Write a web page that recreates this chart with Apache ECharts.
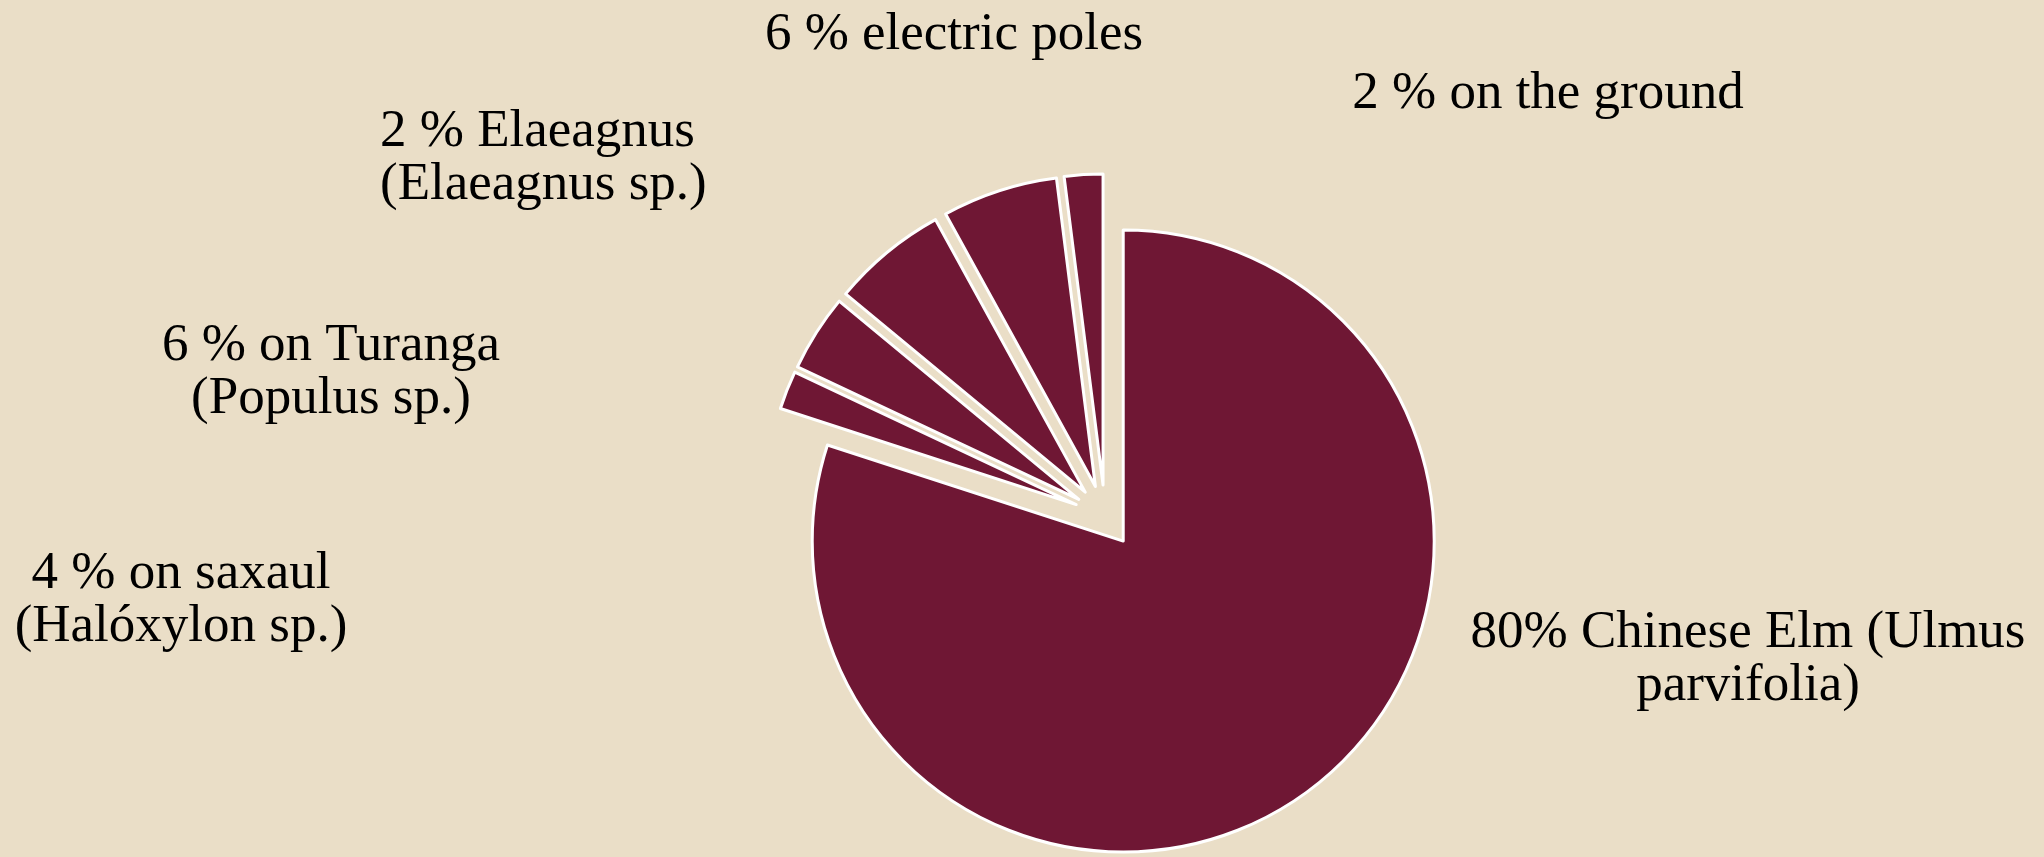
<!DOCTYPE html>
<html>
<head>
<meta charset="utf-8">
<script src="https://cdn.jsdelivr.net/npm/echarts@6/dist/echarts.min.js"></script>
<style>
  html, body { margin: 0; padding: 0; background: #EADEC7; }
  #chart { width: 2044px; height: 857px; }
</style>
</head>
<body>
<div id="chart"></div>
<script>
// ---- data ----
const categories = [
  'Chinese Elm (Ulmus parvifolia)',
  'Elaeagnus (Elaeagnus sp.)',
  'on saxaul (Halóxylon sp.)',
  'on Turanga (Populus sp.)',
  'electric poles',
  'on the ground'
];
const shares = [80, 2, 4, 6, 6, 2];
const labelTexts = [
  '80% Chinese Elm (Ulmus\nparvifolia)',
  '2 % Elaeagnus\n(Elaeagnus sp.)',
  '4 % on saxaul\n(Halóxylon sp.)',
  '6 % on Turanga\n(Populus sp.)',
  '6 % electric poles',
  '2 % on the ground'
];

// ---- layout / style (kept apart from data) ----
const labelAnchors = [
  [1748, 660, 'center'],
  [380, 159, 'left'],
  [181, 601, 'center'],
  [331, 373, 'center'],
  [954, 35, 'center'],
  [1548, 94, 'center']
];
const FILL = '#6F1734';
const BG = '#EADEC7';

const chart = echarts.init(document.getElementById('chart'), null, { renderer: 'canvas' });

chart.setOption({
  backgroundColor: BG,
  animation: false,
  graphic: labelTexts.map((t, i) => ({
    type: 'text',
    x: labelAnchors[i][0],
    y: labelAnchors[i][1],
    silent: true,
    style: {
      text: t,
      fontFamily: 'Liberation Serif',
      fontSize: 53,
      lineHeight: 53,
      fill: '#000000',
      align: labelAnchors[i][2],
      verticalAlign: 'middle'
    }
  })),
  series: [{
    type: 'pie',
    center: [1105, 516],
    radius: 311,
    startAngle: 90,
    clockwise: true,
    avoidLabelOverlap: false,
    selectedMode: 'multiple',
    selectedOffset: 31,
    emphasis: { disabled: true },
    itemStyle: { color: FILL, borderColor: '#FFFFFF', borderWidth: 3 },
    select: { itemStyle: { color: FILL, borderColor: '#FFFFFF', borderWidth: 3 } },
    label: { show: false },
    labelLine: { show: false },
    data: categories.map((c, i) => ({ name: c, value: shares[i], selected: true }))
  }]
});
</script>
</body>
</html>
